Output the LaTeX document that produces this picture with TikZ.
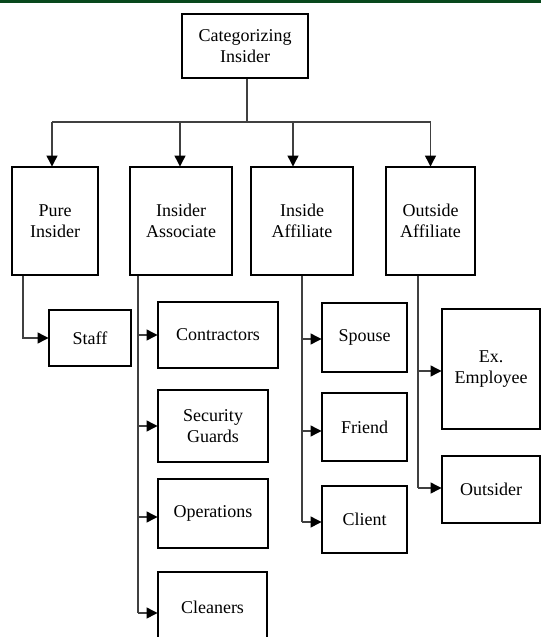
\documentclass[tikz,border=0pt]{standalone}
\usepackage{fontspec}
\setmainfont{Liberation Serif}
\usetikzlibrary{arrows.meta}
\definecolor{topgreen}{RGB}{8,72,28}
\tikzset{
  box/.style={draw=black, line width=1.9pt, fill=white, align=center, inner sep=0pt,
    font=\fontsize{18}{20.5}\selectfont},
  conn/.style={draw=black!75, line width=1.2pt},
  arr/.style={conn, -{Triangle[length=11pt,width=11pt,color=black,fill=black]}, shorten >=-0.5pt}
}
\begin{document}
\begin{tikzpicture}[x=1pt,y=-1pt]
\useasboundingbox (0,0) rectangle (541,637);
\clip (0,0) rectangle (541,637);
\fill[topgreen] (0,0) rectangle (541,3);

\node[box, minimum width=126pt, minimum height=64pt] (top) at (245,46) {Categorizing\\Insider};

\node[box, minimum width=86pt, minimum height=108pt] (pure) at (55,221) {Pure\\Insider};
\node[box, minimum width=102pt, minimum height=108pt] (assoc) at (181,221) {Insider\\Associate};
\node[box, minimum width=102pt, minimum height=108pt] (inaff) at (302,221) {Inside\\Affiliate};
\node[box, minimum width=89pt, minimum height=108pt] (outaff) at (430.5,221) {Outside\\Affiliate};

\node[box, minimum width=82pt, minimum height=56pt] (staff) at (90,338) {Staff};

\node[box, minimum width=120pt, minimum height=66pt] (contr) at (218,335) {Contractors};
\node[box, minimum width=110pt, minimum height=72pt] (secur) at (213,426) {Security\\Guards};
\node[box, minimum width=110pt, minimum height=69pt] (oper) at (213,513.5) {Operations};
\node[box, minimum width=109pt, minimum height=70pt] (clean) at (212.5,607) {Cleaners};

\node[box, minimum width=85pt, minimum height=69pt] (spouse) at (364.5,337.5) {Spouse};
\node[box, minimum width=85pt, minimum height=68pt] (friend) at (364.5,427) {Friend};
\node[box, minimum width=85pt, minimum height=67pt] (client) at (364.5,519.5) {Client};

\node[box, minimum width=98pt, minimum height=120pt] (exemp) at (491,369) {Ex.\\Employee};
\node[box, minimum width=98pt, minimum height=67pt] (outs) at (491,489.5) {Outsider};

% top distribution
\coordinate (hub) at (247,122);
\draw[conn] ([xshift=2pt]top.south) -- ([xshift=2pt]top.south |- hub);
\draw[conn] ([xshift=-3pt]pure.north |- hub) -- (outaff.north |- hub);
\draw[arr] ([xshift=-3pt]pure.north |- hub) -- ([xshift=-3pt]pure.north);
\draw[arr] ([xshift=-1pt]assoc.north |- hub) -- ([xshift=-1pt]assoc.north);
\draw[arr] ([xshift=-9pt]inaff.north |- hub) -- ([xshift=-9pt]inaff.north);
\draw[arr] (outaff.north |- hub) -- (outaff.north);

% pure insider
\draw[arr] ([xshift=12pt]pure.south west) |- (staff.west);

% insider associate
\draw[conn] ([xshift=9pt]assoc.south west) -- ([xshift=9pt,yshift=-6pt]assoc.south west |- clean.west);
\draw[arr] ([xshift=9pt]assoc.south west |- contr.west) -- (contr.west);
\draw[arr] ([xshift=9pt]assoc.south west |- secur.west) -- (secur.west);
\draw[arr] ([xshift=9pt,yshift=-3.5pt]assoc.south west |- oper.west) -- ([yshift=-3.5pt]oper.west);
\draw[arr] ([xshift=9pt,yshift=-6pt]assoc.south west |- clean.west) -- ([yshift=-6pt]clean.west);

% inside affiliate
\draw[conn] (inaff.south) -- ([yshift=-2.5pt]inaff.south |- client.west);
\draw[arr] ([yshift=-1.5pt]inaff.south |- spouse.west) -- ([yshift=-1.5pt]spouse.west);
\draw[arr] ([yshift=-4pt]inaff.south |- friend.west) -- ([yshift=-4pt]friend.west);
\draw[arr] ([yshift=-2.5pt]inaff.south |- client.west) -- ([yshift=-2.5pt]client.west);

% outside affiliate
\draw[conn] ([xshift=33pt]outaff.south west) -- ([xshift=33pt,yshift=1.5pt]outaff.south west |- outs.west);
\draw[arr] ([xshift=33pt,yshift=-2pt]outaff.south west |- exemp.west) -- ([yshift=-2pt]exemp.west);
\draw[arr] ([xshift=33pt,yshift=1.5pt]outaff.south west |- outs.west) -- ([yshift=1.5pt]outs.west);
\end{tikzpicture}
\end{document}
